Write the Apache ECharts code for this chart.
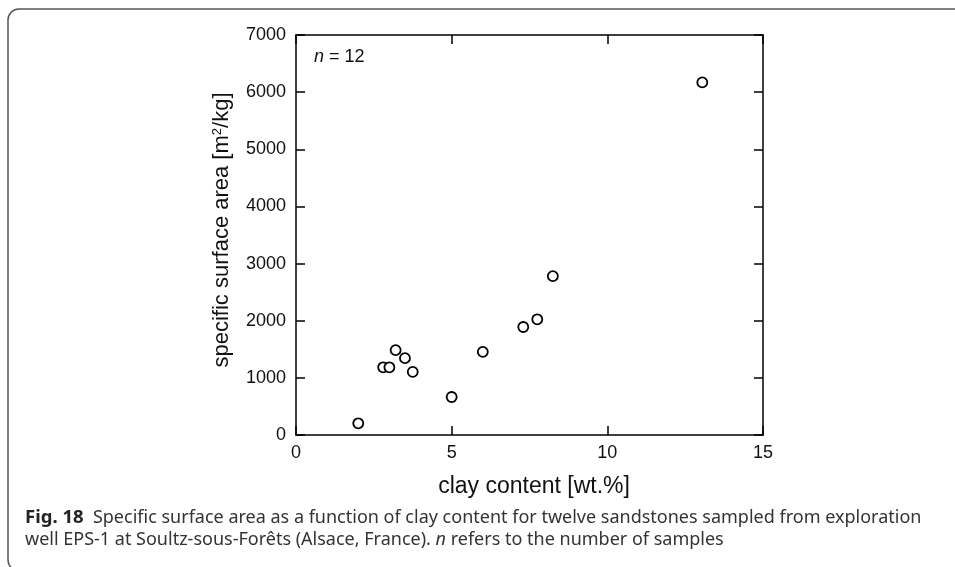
<!DOCTYPE html>
<html>
<head>
<meta charset="utf-8">
<script src="https://cdn.jsdelivr.net/npm/echarts@6/dist/echarts.min.js"></script>
<style>
  html, body { margin: 0; padding: 0; background: #fff; }
  #main { width: 955px; height: 567px; }
</style>
</head>
<body>
<div id="main"></div>
<script>
// clay content [wt.%] vs specific surface area [m2/kg]
const clayContent = [2.0, 2.8, 3.0, 3.2, 3.5, 3.75, 5.0, 6.0, 7.3, 7.75, 8.25, 13.05];
const surfaceArea = [205, 1185, 1185, 1485, 1345, 1105, 665, 1455, 1890, 2025, 2780, 6170];
const xTicks = [0, 5, 10, 15];
const yTicks = [0, 1000, 2000, 3000, 4000, 5000, 6000, 7000];

const chart = echarts.init(document.getElementById("main"));

const axisFont = "Liberation Sans, Arial, sans-serif";
const captionFont = "Noto Sans, sans-serif";
const lineStyle = { color: "#000", width: 1.5 };

const points = clayContent.map((x, i) => [x, surfaceArea[i]]);

// one helper for the four framing axes
function frameAxis(pos, labels) {
  const isX = pos === "bottom" || pos === "top";
  const ticks = isX ? xTicks : yTicks;
  return {
    type: "value",
    min: ticks[0],
    max: ticks[ticks.length - 1],
    interval: ticks[1] - ticks[0],
    position: pos,
    splitLine: { show: false },
    axisLine: { onZero: false, lineStyle: lineStyle },
    axisTick: { inside: true, length: 9, lineStyle: lineStyle },
    axisLabel: {
      show: labels,
      color: "#111",
      fontSize: 18,
      fontFamily: axisFont,
      margin: isX ? 9 : 10,
      formatter: v => String(v)
    }
  };
}

const option = {
  animation: false,
  backgroundColor: "#fff",
  grid: { left: 296, right: 192, top: 35, bottom: 132 },
  xAxis: [frameAxis("bottom", true), frameAxis("top", false)],
  yAxis: [frameAxis("left", true), frameAxis("right", false)],
  series: [
    {
      type: "scatter",
      data: points,
      symbol: "circle",
      symbolSize: 10,
      itemStyle: { color: "#fff", borderColor: "#000", borderWidth: 1.8, opacity: 1 }
    }
  ],
  graphic: [
    // rounded frame round the figure
    {
      type: "rect",
      shape: { x: 8, y: 9, width: 1000, height: 562, r: 11 },
      style: { fill: "none", stroke: "#555", lineWidth: 1.5 },
      z: -1
    },
    {
      type: "text",
      left: 314,
      top: 48,
      style: {
        text: "{i|n} = 12",
        rich: {
          i: { fontStyle: "italic", fontSize: 18, fontFamily: axisFont, fill: "#111" }
        },
        fontSize: 18,
        fontFamily: axisFont,
        fill: "#111"
      }
    },
    {
      type: "text",
      x: 534,
      y: 487,
      style: {
        text: "clay content [wt.%]",
        fontSize: 23,
        fontFamily: axisFont,
        fill: "#111",
        align: "center",
        verticalAlign: "middle"
      }
    },
    {
      type: "text",
      x: 222,
      y: 230,
      rotation: Math.PI / 2,
      style: {
        text: "specific surface area [m{s|2}/kg]",
        rich: {
          s: { fontSize: 13, fontFamily: axisFont, fill: "#111", verticalAlign: "top", padding: [0, 0, 9, 0] }
        },
        fontSize: 22,
        fontFamily: axisFont,
        fill: "#111",
        align: "center",
        verticalAlign: "middle"
      }
    },
    {
      type: "text",
      left: 25,
      top: 508,
      style: {
        text: "{b|Fig. 18}  Specific surface area as a function of clay content for twelve sandstones sampled from exploration",
        rich: {
          b: { fontWeight: "bold", fontSize: 18.5, fontFamily: captionFont, fill: "#222" }
        },
        fontSize: 18,
        fontFamily: captionFont,
        fill: "#333"
      }
    },
    {
      type: "text",
      left: 25,
      top: 531,
      style: {
        text: "well EPS-1 at Soultz-sous-Forêts (Alsace, France). {i|n} refers to the number of samples",
        rich: {
          i: { fontStyle: "italic", fontSize: 18, fontFamily: captionFont, fill: "#333" }
        },
        fontSize: 18,
        fontFamily: captionFont,
        fill: "#333"
      }
    }
  ]
};

chart.setOption(option);
window.addEventListener("resize", chart.resize);
</script>
</body>
</html>
